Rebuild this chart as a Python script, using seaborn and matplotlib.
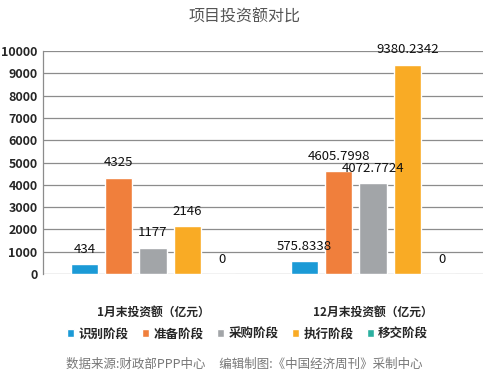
import seaborn as sns
import matplotlib.pyplot as plt
import pandas as pd

# data
groups = ['1月末投资额（亿元）', '12月末投资额（亿元）']
stages = ['识别阶段', '准备阶段', '采购阶段', '执行阶段', '移交阶段']
jan_values = [434, 4325, 1177, 2146, 0]
dec_values = [575.8338, 4605.7998, 4072.7724, 9380.2342, 0]
jan_labels = ['434', '4325', '1177', '2146', '0']
dec_labels = ['575.8338', '4605.7998', '4072.7724', '9380.2342', '0']
colors = ['#1b9ad6', '#f07f3c', '#a2a5a8', '#f9ab25', '#2bb0a0']

df = pd.DataFrame({
    'group': [groups[0]] * 5 + [groups[1]] * 5,
    'stage': stages * 2,
    'value': jan_values + dec_values,
})
label_map = {(groups[0], s): l for s, l in zip(stages, jan_labels)}
label_map.update({(groups[1], s): l for s, l in zip(stages, dec_labels)})

sns.set_style('white')
plt.rcParams['font.family'] = ['Noto Sans CJK SC', 'DejaVu Sans']

fig = plt.figure(figsize=(4.89, 3.80), dpi=100)
ax = fig.add_axes([43 / 489, 1 - 274 / 380, 440 / 489, 223 / 380])

sns.barplot(data=df, x='group', y='value', hue='stage', order=groups, hue_order=stages,
            palette=colors, saturation=1, width=0.78, gap=0.2, ax=ax, legend=True)

ax.set_ylim(0, 10000)
ax.set_yticks(range(0, 10001, 1000))
ax.yaxis.grid(True, color='#8c8c8c', linewidth=0.9)
ax.set_axisbelow(True)
for s in ['top', 'right', 'bottom']:
    ax.spines[s].set_visible(False)
ax.spines['left'].set_color('#8c8c8c')
ax.spines['left'].set_linewidth(0.9)
ax.tick_params(axis='y', length=0, labelsize=9, pad=4)
ax.tick_params(axis='x', length=0, labelsize=8.5, pad=23)
for t in ax.get_yticklabels() + ax.get_xticklabels():
    t.set_fontweight('bold')
ax.set_xlabel('')
ax.set_ylabel('')

# value labels
for container, stage in zip(ax.containers, stages):
    for bar, grp in zip(container, groups):
        ax.annotate(label_map[(grp, stage)],
                    (bar.get_x() + bar.get_width() / 2, bar.get_height()),
                    xytext=(0, 6), textcoords='offset points',
                    ha='center', va='bottom', fontsize=9.5, color='#111111')

ax.legend(loc='center', bbox_to_anchor=(0.465, -0.27), ncol=5, frameon=False,
          handlelength=0.6, handleheight=0.6, handletextpad=0.3,
          columnspacing=1.1, prop={'weight': 'bold', 'size': 9})

fig.text(0.5, 1 - 17 / 380, '项目投资额对比', ha='center', va='center',
         fontsize=11.5, color='#555555')
fig.text(0.5, 1 - 364 / 380, '数据来源:财政部PPP中心     编辑制图:《中国经济周刊》采制中心',
         ha='center', va='center', fontsize=9, color='#777777')

fig.savefig('out.png', dpi=100, facecolor='white')
